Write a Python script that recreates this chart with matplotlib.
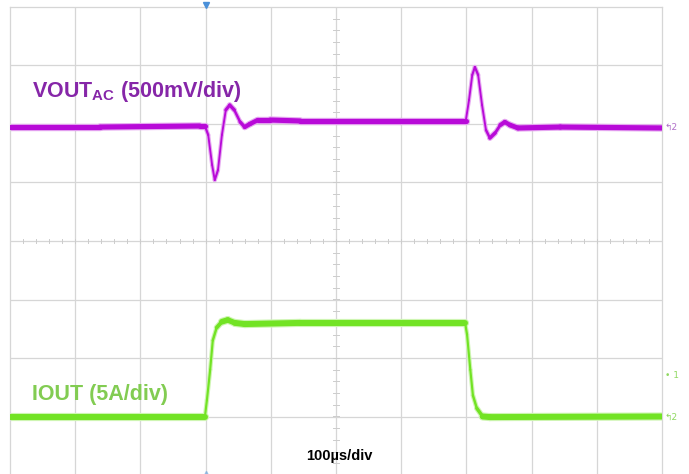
import numpy as np
import matplotlib
matplotlib.use("Agg")
import matplotlib.pyplot as plt
from matplotlib.collections import LineCollection
from matplotlib.colors import to_rgb

# Load-step transient capture: 100 us/div, 10 x 8 divisions
time_us_v = [0, 138, 291, 299, 304, 310, 314, 319, 325, 331, 337, 344, 353, 360,
             368, 380, 399, 445, 598, 699, 704, 709, 713, 718, 724, 730, 736, 744,
             752, 759, 767, 779, 844, 1000]
vout_ac_mv = [-26, -26, -17, -17, -94, -350, -479, -393, -94, 120, 162, 120, 17, -26,
              0, 34, 34, 26, 26, 26, 205, 419, 487, 419, 162, -51, -120, -77,
              -9, 17, -9, -34, -26, -34]

time_us_i = [0, 299, 302, 307, 311, 317, 325, 334, 345, 360, 445, 698, 701, 706,
             710, 716, 725, 736, 1000]
iout_a = [0, 0, 1.4, 4.0, 6.5, 7.6, 8.1, 8.25, 8.0, 7.9, 8.0, 8.0, 7.0, 4.0,
          1.8, 0.7, 0.0, -0.05, 0.0]

vout_scale_mv = 500.0   # mV per division
iout_scale_a = 5.0      # A per division
vout_offset_div = 2.0
iout_offset_div = -3.0
trigger_us = 300

purple_trace = "#b80ad8"
purple_text = "#8626a8"
green_trace = "#72e324"
green_text = "#82cc52"
grid_col = "#d6d6d6"

fig = plt.figure(figsize=(6.89, 4.74), dpi=100)
W, H = 689, 474
ax = fig.add_axes([10 / W, (H - 475) / H, 652 / W, 468 / H])
ax.set_xlim(0, 1000)
ax.set_ylim(-4, 4)
ax.set_xticks([])
ax.set_yticks([])
for s in ax.spines.values():
    s.set_color(grid_col)
    s.set_linewidth(0.9)

# graticule
for gx in np.arange(100, 1000, 100):
    ax.axvline(gx, color=grid_col, lw=0.9, zorder=0)
for gy in np.arange(-3, 4, 1):
    ax.axhline(gy, color=grid_col, lw=0.9, zorder=0)
# minor ticks on the centre cross
for tx in np.arange(0, 1001, 20):
    ax.plot([tx, tx], [-0.04, 0.04], color="#cccccc", lw=0.7, zorder=0)
for ty in np.arange(-4, 4.01, 0.2):
    ax.plot([496, 504], [ty, ty], color="#cccccc", lw=0.7, zorder=0)


def persistence_trace(t, y_div, color, width):
    """Draw a trace whose fast edges come out thinner, like a scope display."""
    t = np.asarray(t, float)
    y = np.asarray(y_div, float)
    px_x = np.diff(t) * (652 / 1000)
    px_y = np.diff(y) * (468 / 8)
    cos_a = np.abs(px_x) / np.hypot(px_x, px_y)
    seg = np.stack([np.column_stack([t[:-1], y[:-1]]),
                    np.column_stack([t[1:], y[1:]])], axis=1)
    w = width * (0.35 + 0.65 * cos_a ** 2)
    glow = 0.35 * np.array(to_rgb(color)) + 0.65
    halo = LineCollection(seg, colors=[tuple(glow)], linewidths=w + 1.6,
                          capstyle="round", joinstyle="round", zorder=2)
    core = LineCollection(seg, colors=color, linewidths=w,
                          capstyle="round", joinstyle="round", zorder=3)
    ax.add_collection(halo)
    ax.add_collection(core)


v_div = np.array(vout_ac_mv) / vout_scale_mv + vout_offset_div
i_div = np.array(iout_a) / iout_scale_a + iout_offset_div
persistence_trace(time_us_v, v_div, purple_trace, 3.7)
persistence_trace(time_us_i, i_div, green_trace, 4.3)

# trigger position markers
ax.plot([trigger_us], [4.03], marker="v", ms=4, color="#4a90d9",
        clip_on=False, zorder=4)
ax.plot([trigger_us], [-3.97], marker="^", ms=3, color="#7fb0e0",
        clip_on=False, zorder=4, alpha=0.7)

fam = ["Liberation Sans", "DejaVu Sans"]
ax.text(34, 2.55, r"VOUT$_{\mathregular{AC}}$ (500mV/div)", fontsize=15.5,
        fontweight="bold", color=purple_text, family=fam, va="center", ha="left")
ax.text(34, -2.62, "IOUT (5A/div)", fontsize=15.5, fontweight="bold",
        color=green_text, family=fam, va="center", ha="left")
ax.text(505, -3.67, "100\u00b5s/div", fontsize=10.5, fontweight="bold",
        color="black", family=fam, va="center", ha="center")

# channel reference markers at the right edge
ax.text(1004, vout_offset_div - 0.05, "\u21b02", fontsize=6.5, color="#b070c8",
        va="center", ha="left", clip_on=False)
ax.text(1004, -2.3, "\u2022 1", fontsize=6.5, color="#8fd860",
        va="center", ha="left", clip_on=False)
ax.text(1004, iout_offset_div - 0.02, "\u21b02", fontsize=6.5, color="#8fd860",
        va="center", ha="left", clip_on=False)

fig.savefig("out.png", dpi=100, facecolor="white")
